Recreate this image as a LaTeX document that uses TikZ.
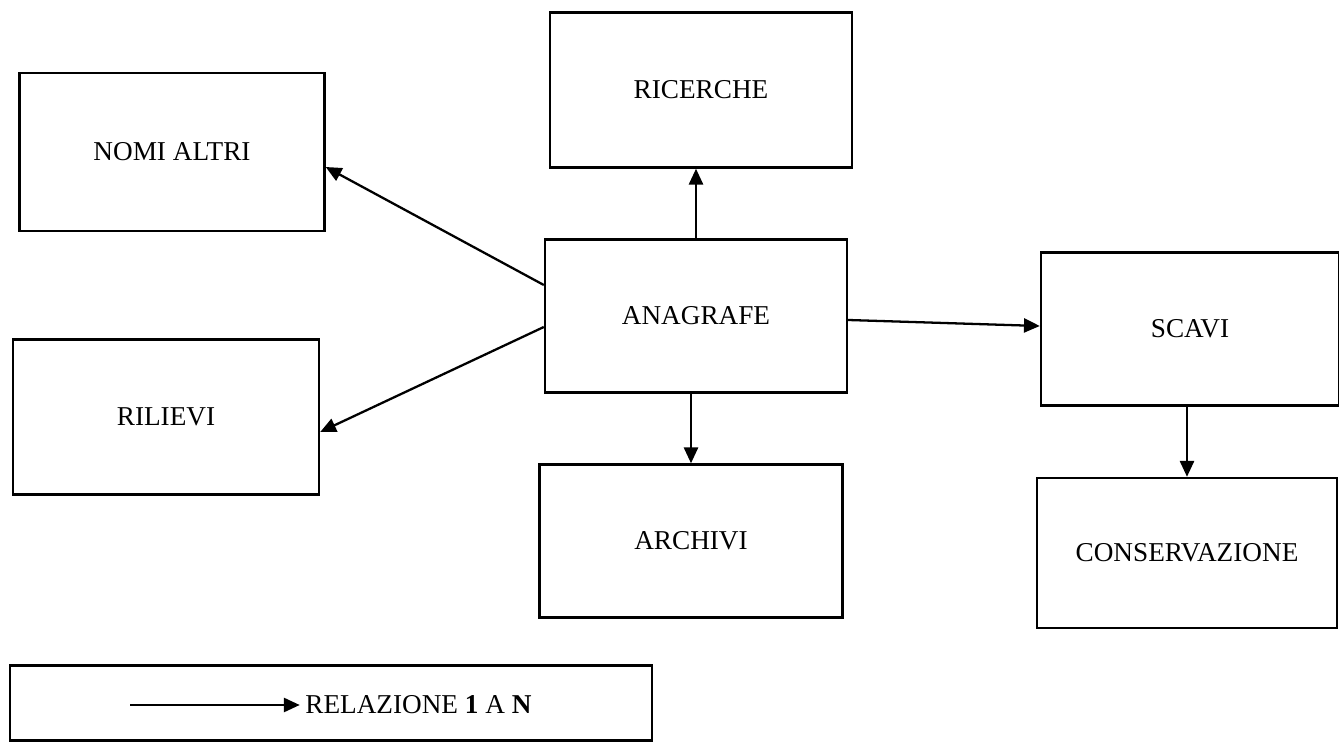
\documentclass[tikz,border=0pt]{standalone}
\usepackage{fontspec}
\setmainfont{Liberation Serif}
\usetikzlibrary{arrows.meta}
\begin{document}
\begin{tikzpicture}[x=0.02cm,y=-0.02cm,
  entity/.style={draw,line width=1.4pt,rectangle,inner sep=0pt,font=\fontsize{15.5}{18}\selectfont},
  rel/.style={line width=1.3pt,-{Triangle[length=9pt,width=8pt]}}]
\useasboundingbox (0,0) rectangle (1339,746);
\node[entity,minimum width=6.1cm,minimum height=3.16cm] (nomi) at (172,152) {NOMI ALTRI};
\node[entity,minimum width=6.12cm,minimum height=3.1cm] (ril) at (166,417) {RILIEVI};
\node[entity,minimum width=6.04cm,minimum height=3.1cm] (ric) at (701,90) {RICERCHE};
\node[entity,minimum width=6.04cm,minimum height=3.06cm] (ana) at (696,316) {ANAGRAFE};
\node[entity,minimum width=6.06cm,minimum height=3.06cm] (arc) at (691,541) {ARCHIVI};
\node[entity,minimum width=5.96cm,minimum height=3.06cm] (sca) at (1190,329) {SCAVI};
\node[entity,minimum width=6.0cm,minimum height=3.0cm] (con) at (1187,553) {CONSERVAZIONE};
\node[entity,minimum width=12.84cm,minimum height=1.5cm] (leg) at (331,703) {};
\draw[rel] ([yshift=0.62cm]ana.west) -- ([yshift=-0.3cm]nomi.east);
\draw[rel] ([yshift=-0.22cm]ana.west) -- ([yshift=-0.3cm]ril.east);
\draw[rel] (ana.north) -- (ana.north |- ric.south);
\draw[rel] (ana.south -| arc.north) -- (arc.north);
\draw[rel] ([yshift=-0.08cm]ana.east) -- ([yshift=0.06cm]sca.west);
\draw[rel] (sca.south -| con.north) -- (con.north);
\coordinate (la) at (130,705);
\node[anchor=west,font=\fontsize{15.5}{18}\selectfont,inner sep=0pt] (lt) at (305,705) {RELAZIONE \textbf{1} A \textbf{N}};
\draw[rel] (la) -- ([xshift=-3pt]lt.west);
\end{tikzpicture}
\end{document}
